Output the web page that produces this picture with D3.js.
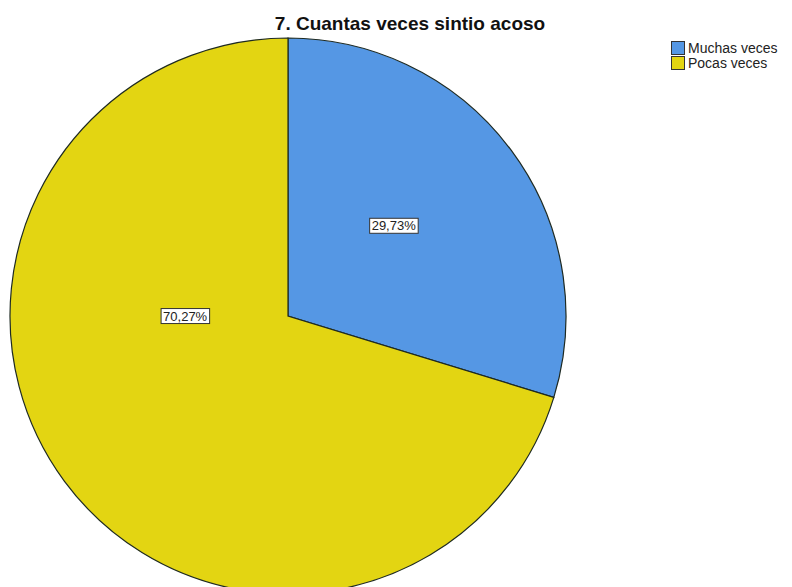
<!DOCTYPE html>
<html>
<head>
<meta charset="utf-8">
<script src="https://cdn.jsdelivr.net/npm/d3@7"></script>
<style>
  html, body { margin: 0; padding: 0; background: #fff; }
  svg { display: block; font-family: "Liberation Sans", Arial, sans-serif; }
</style>
</head>
<body>
<svg id="chart" width="792" height="587"></svg>
<script>
// Responses to "7. Cuantas veces sintio acoso"
const title = "7. Cuantas veces sintio acoso";
const categories = ["Muchas veces", "Pocas veces"];
const percents = [29.73, 70.27];
const colors = ["#5597E4", "#E3D512"];

const svg = d3.select("#chart");
const cx = 288, cy = 316, radius = 278;

// title
svg.append("text")
  .attr("x", 410).attr("y", 30)
  .attr("text-anchor", "middle")
  .attr("font-size", 19).attr("font-weight", "bold")
  .attr("fill", "#111")
  .text(title);

const pie = d3.pie().sort(null).value(d => d.value);
const data = pie(categories.map((c, i) => ({ cat: c, value: percents[i], color: colors[i] })));
const arc = d3.arc().innerRadius(0).outerRadius(radius);

const g = svg.append("g").attr("transform", `translate(${cx},${cy})`);

g.selectAll("path.slice")
  .data(data)
  .join("path")
  .attr("class", "slice")
  .attr("d", arc)
  .attr("fill", d => d.data.color)
  .attr("stroke", "#1e2a22")
  .attr("stroke-width", 1.2);

// label anchors: small slice near its centroid, large slice pulled toward the horizontal
const fmt = v => v.toFixed(2).replace(".", ",") + "%";
function labelPos(d) {
  const span = d.endAngle - d.startAngle;
  let a = (d.startAngle + d.endAngle) / 2;
  let r = radius * 0.5;
  if (span > Math.PI) { a = 1.5 * Math.PI; r = radius * 0.37; }
  else { a = a - 0.07; }
  return [Math.sin(a) * r, -Math.cos(a) * r];
}

const labels = g.selectAll("g.lbl")
  .data(data)
  .join("g")
  .attr("class", "lbl")
  .attr("transform", d => `translate(${labelPos(d)})`);

labels.each(function(d) {
  const sel = d3.select(this);
  const t = sel.append("text")
    .attr("text-anchor", "middle")
    .attr("dy", "0.35em")
    .attr("font-size", 13)
    .attr("fill", "#222")
    .text(fmt(d.data.value));
  const bb = t.node().getBBox();
  sel.insert("rect", "text")
    .attr("x", bb.x - 2).attr("y", bb.y)
    .attr("width", bb.width + 4).attr("height", bb.height)
    .attr("fill", "#fff")
    .attr("stroke", "#333")
    .attr("stroke-width", 1);
});

// legend
const legend = svg.append("g").attr("transform", "translate(671,41)");
const items = legend.selectAll("g")
  .data(categories)
  .join("g")
  .attr("transform", (d, i) => `translate(0,${i * 15})`);
items.append("rect")
  .attr("x", 0.5).attr("y", 0.5)
  .attr("width", 13).attr("height", 13)
  .attr("fill", (d, i) => colors[i])
  .attr("stroke", "#333").attr("stroke-width", 1);
items.append("text")
  .attr("x", 17).attr("y", 12)
  .attr("font-size", 14)
  .attr("fill", "#222")
  .text(d => d);
</script>
</body>
</html>
